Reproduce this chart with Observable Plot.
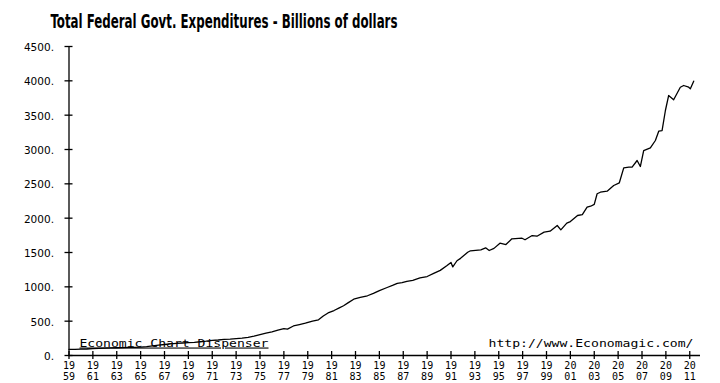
<!DOCTYPE html>
<html><head><meta charset="utf-8">
<script src="https://cdn.jsdelivr.net/npm/d3@7"></script>
<script src="https://cdn.jsdelivr.net/npm/@observablehq/plot@0.6"></script>
<style>html,body{margin:0;padding:0;background:#fff} svg{display:block}</style>
</head><body><div id="chart"></div>
<script>
const titleText = "Total Federal Govt. Expenditures - Billions of dollars";
const years = [1959.0,1959.5,1960.0,1960.5,1961.0,1961.5,1962.0,1962.5,1963.0,1963.5,1964.0,1964.5,1965.0,1965.5,1966.0,1966.5,1967.0,1967.5,1968.0,1968.5,1969.0,1969.5,1970.0,1970.5,1971.0,1971.5,1972.0,1972.5,1973.0,1973.5,1974.0,1974.5,1975.0,1975.5,1976.0,1976.5,1977.0,1977.3,1977.8,1978.3,1978.8,1979.4,1979.9,1980.3,1980.7,1981.2,1981.6,1982.0,1982.4,1982.85,1983.4,1984.0,1984.5,1985.0,1985.65,1986.1,1986.5,1986.9,1987.3,1987.8,1988.4,1989.0,1989.55,1990.1,1990.67,1991.0,1991.15,1991.5,1991.8,1992.4,1992.63,1993.5,1993.9,1994.2,1994.6,1995.1,1995.6,1996.1,1996.95,1997.2,1997.8,1998.2,1998.8,1999.3,1999.9,2000.2,2000.7,2001.0,2001.6,2002.0,2002.4,2002.7,2003.0,2003.24,2003.51,2004.08,2004.63,2005.1,2005.47,2005.9,2006.17,2006.59,2006.86,2007.14,2007.7,2008.12,2008.4,2008.68,2008.96,2009.23,2009.65,2010.21,2010.49,2010.91,2011.05,2011.33];
const values = [88,90,92,95,100,104,108,110,113,115,118,119,122,130,140,150,160,168,176,182,187,192,200,208,220,226,235,238,245,252,265,282,305,325,345,370,390,385,430,450,470,500,520,575,620,655,690,725,770,820,845,870,905,945,990,1020,1050,1060,1080,1095,1130,1150,1195,1240,1310,1355,1290,1380,1415,1504,1525,1539,1568,1529,1560,1635,1616,1699,1708,1685,1747,1737,1796,1810,1893,1830,1927,1950,2039,2053,2160,2174,2200,2355,2378,2393,2476,2515,2733,2742,2742,2840,2752,2985,3024,3131,3266,3276,3568,3786,3724,3907,3932,3907,3884,3995];
const yTicks = [0,500,1000,1500,2000,2500,3000,3500,4000,4500];
const yTickLabels = ["0.","500.","1000.","1500.","2000.","2500.","3000.","3500.","4000.","4500."];
const xTicks = [1959,1961,1963,1965,1967,1969,1971,1973,1975,1977,1979,1981,1983,1985,1987,1989,1991,1993,1995,1997,1999,2001,2003,2005,2007,2009,2011];
const xTickLabels = ["19\n59","19\n61","19\n63","19\n65","19\n67","19\n69","19\n71","19\n73","19\n75","19\n77","19\n79","19\n81","19\n83","19\n85","19\n87","19\n89","19\n91","19\n93","19\n95","19\n97","19\n99","20\n01","20\n03","20\n05","20\n07","20\n09","20\n11"];
const leftNote = "Economic Chart Dispenser";
const rightNote = "http://www.Economagic.com/";

const series = years.map((t, i) => ({t, v: values[i]}));
const yLab = yTicks.map((v, i) => ({v, s: yTickLabels[i]}));
const xLab = xTicks.map((t, i) => ({t, s: xTickLabels[i]}));

const chart = Plot.plot({
  width: 720,
  height: 383,
  marginLeft: 68.5,
  marginRight: 20,
  marginTop: 46,
  marginBottom: 28,
  x: {domain: [1959, 2011.9], axis: null},
  y: {domain: [0, 4500], axis: null},
  style: {background: "#fff", color: "#000"},
  marks: [
    Plot.ruleX([1959], {stroke: "#000", strokeWidth: 1.3}),
    Plot.ruleY([0], {stroke: "#000", strokeWidth: 1.3}),
    Plot.ruleY(yTicks, {x1: 1959, x2: 1959, insetLeft: -4, insetRight: -4, stroke: "#000", strokeWidth: 1.3}),
    Plot.ruleX(xTicks, {y1: 0, y2: 0, insetTop: -4, insetBottom: -4, stroke: "#000", strokeWidth: 1.3}),
    Plot.text(yLab, {x: 1959, y: "v", text: "s", textAnchor: "end", dx: -15, dy: 1, fontFamily: "DejaVu Sans", fontSize: 10.5, fill: "#000"}),
    Plot.text(xLab, {x: "t", y: 0, text: "s", lineAnchor: "top", dy: 5, lineHeight: 1.15, fontFamily: "DejaVu Sans Mono", fontSize: 10, fill: "#000"}),
    Plot.text([leftNote], {frameAnchor: "bottom-left", textAnchor: "start", lineAnchor: "bottom", dx: 10.5, dy: -9, fontFamily: "DejaVu Sans Mono", fontSize: 11, fill: "#000"}),
    Plot.text([rightNote], {frameAnchor: "bottom-right", textAnchor: "end", lineAnchor: "bottom", dx: -7, dy: -9, fontFamily: "DejaVu Sans Mono", fontSize: 11, fill: "#000"}),
    Plot.line(series, {x: "t", y: "v", stroke: "#000", strokeWidth: 1.3}),
    Plot.text([titleText], {frameAnchor: "top-left", textAnchor: "start", lineAnchor: "bottom", dx: -18.5, dy: -19, fontFamily: "Liberation Sans Narrow, DejaVu Sans Condensed, sans-serif", fontWeight: "bold", fontSize: 19, fill: "#000"})
  ]
});
document.getElementById("chart").append(chart);

// fit the texts to the reference widths
d3.select(chart).selectAll("text").each(function() {
  const t = this.textContent;
  const sel = d3.select(this);
  if (t === titleText) sel.attr("textLength", 347).attr("lengthAdjust", "spacingAndGlyphs");
  if (t === leftNote) sel.attr("textLength", 189).attr("lengthAdjust", "spacingAndGlyphs").style("text-decoration", "underline");
  if (t === rightNote) sel.attr("textLength", 205).attr("lengthAdjust", "spacingAndGlyphs");
});
</script>
</body></html>
